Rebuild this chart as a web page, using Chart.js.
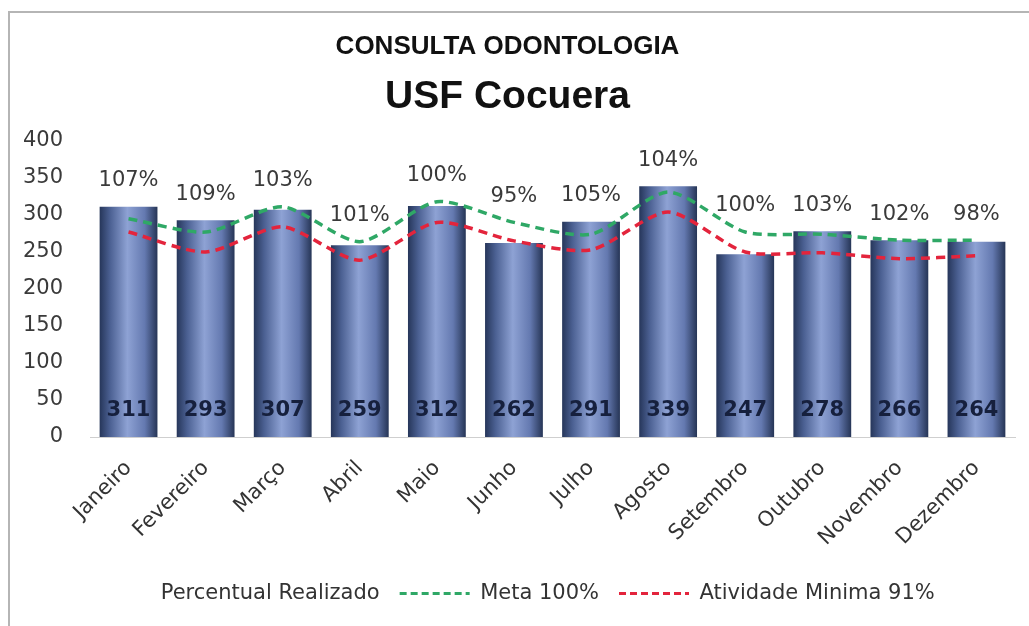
<!DOCTYPE html>
<html>
<head>
<meta charset="utf-8">
<script src="https://cdn.jsdelivr.net/npm/chart.js@4.4.0/dist/chart.umd.min.js"></script>
<style>
  html, body { margin: 0; padding: 0; background: #fff; }
  #frame { position: absolute; left: 8px; top: 11px; width: 1100px; height: 700px;
           border-left: 2px solid #b5b5b5; border-top: 2px solid #b5b5b5; }
  #wrap { position: absolute; left: 0; top: 0; width: 1029px; height: 626px; }
</style>
</head>
<body>
<div id="frame"></div>
<div id="wrap"><canvas id="chart"></canvas></div>
<script>
const labels = ['Janeiro', 'Fevereiro', 'Março', 'Abril', 'Maio', 'Junho', 'Julho', 'Agosto', 'Setembro', 'Outubro', 'Novembro', 'Dezembro'];
const realizado = [311, 293, 307, 259, 312, 262, 291, 339, 247, 278, 266, 264];
const percentual = [107, 109, 103, 101, 100, 95, 105, 104, 100, 103, 102, 98];
const meta = [295, 277, 311, 264, 318, 290, 274, 331, 277, 274, 266, 266];
const minima = [277, 250, 284, 239, 290, 265, 253, 304, 250, 249, 241, 245];
const yTicks = [0, 50, 100, 150, 200, 250, 300, 350, 400];

const NUM_FONT = '"DejaVu Sans", sans-serif';

// gradiente horizontal de cada barra (escuro nas bordas, claro no meio)
function barGradient(context) {
    const chart = context.chart;
    const area = chart.chartArea;
    if (!area) return '#5a6fa0';
    const x = chart.scales.x.getPixelForValue(context.dataIndex);
    const half = (area.width / labels.length) * 0.75 / 2;
    const g = chart.ctx.createLinearGradient(x - half, 0, x + half, 0);
    g.addColorStop(0, '#26365a');
    g.addColorStop(0.18, '#4b6092');
    g.addColorStop(0.48, '#8ea2d4');
    g.addColorStop(0.78, '#6479b0');
    g.addColorStop(1, '#263556');
    return g;
}

const valueLabels = {
    id: 'valueLabels',
    afterDatasetsDraw(chart) {
        const { ctx, scales: { x, y } } = chart;
        ctx.save();
        ctx.textAlign = 'center';
        ctx.textBaseline = 'middle';
        percentual.forEach((p, i) => {
            const px = x.getPixelForValue(i);
            const top = Math.min(y.getPixelForValue(realizado[i]), y.getPixelForValue(meta[i]));
            ctx.font = '21px ' + NUM_FONT;
            ctx.fillStyle = '#3a3a3a';
            ctx.fillText(p + '%', px, top - 26);
            ctx.font = 'bold 21px ' + NUM_FONT;
            ctx.fillStyle = '#16203d';
            ctx.fillText(realizado[i], px, y.getPixelForValue(0) - 26);
        });
        ctx.restore();
    }
};

new Chart(document.getElementById('chart'), {
    data: {
        labels: labels,
        datasets: [{
            type: 'bar',
            label: 'Percentual Realizado',
            data: realizado,
            backgroundColor: barGradient,
            categoryPercentage: 1,
            barPercentage: 0.75,
            order: 2
        }, {
            type: 'line',
            label: 'Meta 100%',
            data: meta,
            borderColor: '#2fa866',
            borderWidth: 3.5,
            borderDash: [9, 6],
            pointRadius: 0,
            tension: 0.25,
            order: 1
        }, {
            type: 'line',
            label: 'Atividade Minima 91%',
            data: minima,
            borderColor: '#e3243c',
            borderWidth: 3.5,
            borderDash: [9, 6],
            pointRadius: 0,
            tension: 0.25,
            order: 0
        }]
    },
    options: {
        responsive: true,
        maintainAspectRatio: false,
        animation: false,
        layout: { padding: { left: 0, right: 14, top: 0, bottom: 12 } },
        plugins: {
            tooltip: { enabled: false },
            title: {
                display: true,
                text: 'CONSULTA ODONTOLOGIA',
                color: '#111',
                font: { family: '"Liberation Sans", Arial, sans-serif', size: 26, weight: 'bold' },
                padding: { top: 31, bottom: 0 }
            },
            subtitle: {
                display: true,
                text: 'USF Cocuera',
                color: '#111',
                font: { family: '"Liberation Sans", Arial, sans-serif', size: 39, weight: 'bold' },
                padding: { top: 12, bottom: 20 }
            },
            legend: {
                position: 'bottom',
                labels: {
                    usePointStyle: true,
                    pointStyleWidth: 70,
                    color: '#333',
                    padding: 20,
                    font: { family: NUM_FONT, size: 21 },
                    sort: (a, b) => a.datasetIndex - b.datasetIndex,
                    generateLabels: chart => {
                        const items = Chart.defaults.plugins.legend.labels.generateLabels(chart);
                        items.forEach(it => {
                            it.pointStyle = 'line';
                            if (it.datasetIndex === 0) {
                                it.fillStyle = 'rgba(0,0,0,0)';
                                it.strokeStyle = 'rgba(0,0,0,0)';
                            } else {
                                it.lineWidth = 3;
                                it.lineDash = [7, 4];
                            }
                        });
                        return items;
                    }
                }
            }
        },
        scales: {
            x: {
                grid: { display: false, drawTicks: false },
                border: { display: true, color: '#cfcfcf' },
                ticks: {
                    maxRotation: 45,
                    minRotation: 45,
                    padding: 19,
                    color: '#333',
                    font: { family: NUM_FONT, size: 21 }
                },
                afterFit: scale => { scale.height = 126; }
            },
            y: {
                min: 0,
                max: 400,
                grid: { display: false, drawTicks: false },
                border: { display: false },
                afterBuildTicks: scale => { scale.ticks = yTicks.map(v => ({ value: v })); },
                ticks: {
                    padding: 27,
                    color: '#3a3a3a',
                    font: { family: NUM_FONT, size: 21 }
                },
                afterFit: scale => { scale.width = 90; }
            }
        }
    },
    plugins: [valueLabels]
});
</script>
</body>
</html>
